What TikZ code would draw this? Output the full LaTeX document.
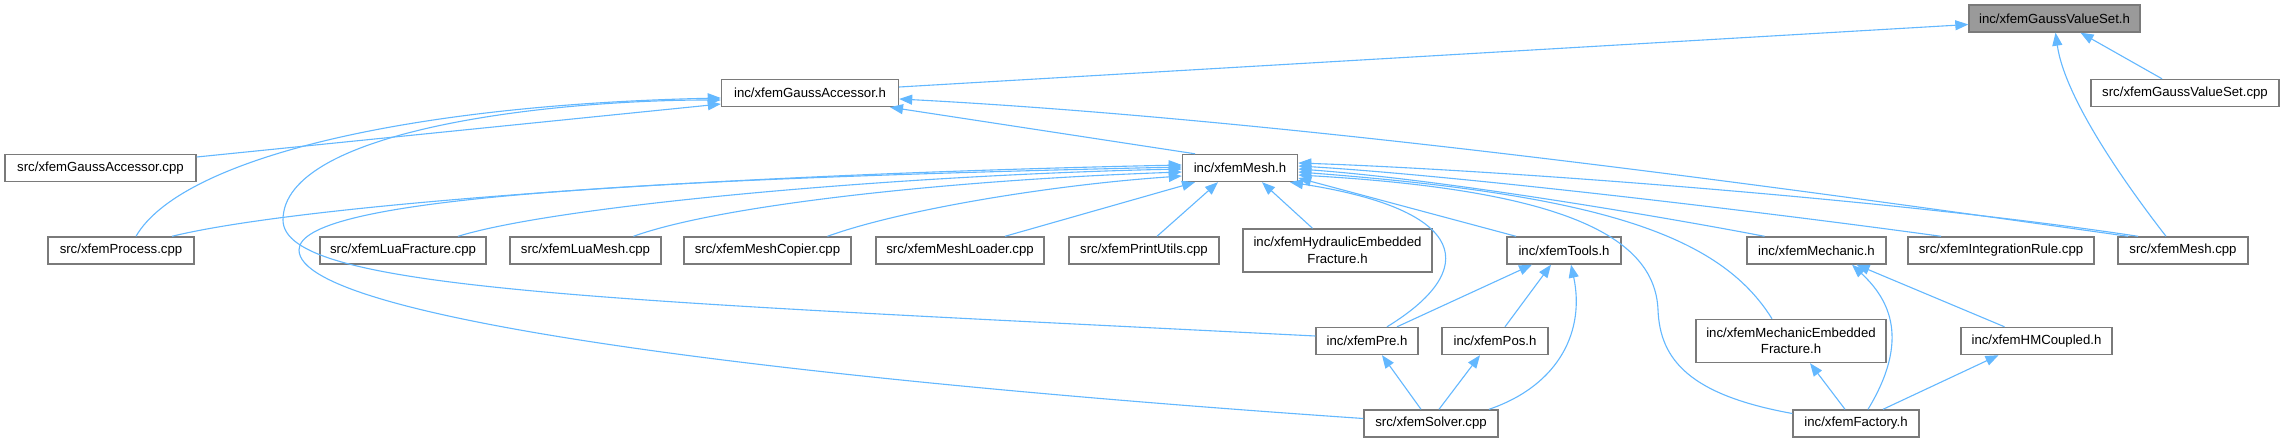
\documentclass[tikz,border=0pt]{standalone}
\usepackage{fontspec}
\setmainfont{Liberation Sans}
\usetikzlibrary{arrows.meta}
\definecolor{edgeblue}{HTML}{63B8FF}
\definecolor{boxline}{HTML}{7A7A7A}
\definecolor{rootfill}{HTML}{9A9A9A}
\tikzset{
  box/.style={draw=boxline, line width=1.4pt, fill=white, inner sep=0pt,
    minimum height=27pt, align=center, anchor=center,
    font=\fontsize{13.2pt}{16.5pt}\selectfont},
  tall/.style={minimum height=43pt},
  root/.style={fill=rootfill},
  edge/.style={draw=edgeblue, line width=1.1pt,
    -{Triangle[length=13pt,width=10pt]}}
}
\begin{document}
\begin{tikzpicture}[x=1pt,y=-1pt]
\useasboundingbox[fill=white] (0,0) rectangle (2285,443);
% nodes
\node[box,root,minimum width=171pt] (gvs) at (2054.5,18.5) {inc/xfemGaussValueSet.h};
\node[box,minimum width=177pt] (ga) at (810,93) {inc/xfemGaussAccessor.h};
\node[box,minimum width=188pt] (gvscpp) at (2185,93) {src/xfemGaussValueSet.cpp};
\node[box,minimum width=191pt] (gacpp) at (100.5,168) {src/xfemGaussAccessor.cpp};
\node[box,minimum width=115pt] (mesh) at (1240,168) {inc/xfemMesh.h};
\node[box,minimum width=146pt] (process) at (121,250.5) {src/xfemProcess.cpp};
\node[box,minimum width=166pt] (luafrac) at (403,250.5) {src/xfemLuaFracture.cpp};
\node[box,minimum width=151pt] (luamesh) at (585.5,250.5) {src/xfemLuaMesh.cpp};
\node[box,minimum width=167pt] (copier) at (767.5,250.5) {src/xfemMeshCopier.cpp};
\node[box,minimum width=168pt] (loader) at (960,250.5) {src/xfemMeshLoader.cpp};
\node[box,minimum width=150pt] (print) at (1144,250.5) {src/xfemPrintUtils.cpp};
\node[box,tall,minimum width=189pt] (hyd) at (1337.5,250.5) {inc/xfemHydraulicEmbedded\\Fracture.h};
\node[box,minimum width=114pt] (tools) at (1564,250.5) {inc/xfemTools.h};
\node[box,minimum width=139pt] (mechanic) at (1816.5,250.5) {inc/xfemMechanic.h};
\node[box,minimum width=186pt] (integ) at (2001,250.5) {src/xfemIntegrationRule.cpp};
\node[box,minimum width=130pt] (meshcpp) at (2183,250.5) {src/xfemMesh.cpp};
\node[box,minimum width=102pt] (pre) at (1367,341) {inc/xfemPre.h};
\node[box,minimum width=106pt] (pos) at (1495,341) {inc/xfemPos.h};
\node[box,tall,minimum width=190pt] (mechemb) at (1791,341) {inc/xfemMechanicEmbedded\\Fracture.h};
\node[box,minimum width=151pt] (hm) at (2036.5,341) {inc/xfemHMCoupled.h};
\node[box,minimum width=134pt] (solver) at (1431,423.5) {src/xfemSolver.cpp};
\node[box,minimum width=126pt] (factory) at (1856,423.5) {inc/xfemFactory.h};
% edges to GaussValueSet.h
\draw[edge] ([yshift=6pt]ga.east) -- ([yshift=-6pt]gvs.west);
\draw[edge] ([xshift=-23pt]gvscpp.north) -- ([xshift=26pt]gvs.south);
\draw[edge] ([xshift=-17pt]meshcpp.north) .. controls (2130,190) and (2065,100) .. ([xshift=1pt]gvs.south);
% edges to GaussAccessor.h
\draw[edge] ([yshift=11pt]gacpp.east) -- ([yshift=-11pt]ga.west);
\draw[edge] ([xshift=15pt]process.north) .. controls (180,160) and (400,105) .. ([yshift=-5pt]ga.west);
\draw[edge] ([yshift=5pt]pre.west) .. controls (600,300) and (283,290) .. (283,220) .. controls (283,130) and (550,100) .. ([yshift=-7pt]ga.west);
\draw[edge] ([xshift=-45pt]mesh.north) -- ([xshift=80pt]ga.south);
\draw[edge] ([xshift=-55pt]meshcpp.north) .. controls (1800,190) and (1300,120) .. ([yshift=-6pt]ga.east);
% edges to Mesh.h (left)
\draw[edge] ([xshift=51pt]process.north) .. controls (300,205) and (700,175) .. ([yshift=3pt]mesh.west);
\draw[edge] ([yshift=5pt]solver.west) .. controls (800,380) and (299,320) .. (299,250) .. controls (299,200) and (600,180) .. ([yshift=1pt]mesh.west);
\draw[edge] ([xshift=55pt]luafrac.north) .. controls (560,205) and (900,175) .. ([yshift=-1pt]mesh.west);
\draw[edge] ([xshift=48pt]luamesh.north) .. controls (720,205) and (950,180) .. ([yshift=-4pt]mesh.west);
\draw[edge] ([xshift=60pt]copier.north) .. controls (900,210) and (1050,185) .. ([yshift=-8pt]mesh.west);
\draw[edge] ([xshift=45pt]loader.north) -- ([xshift=-45pt]mesh.south);
\draw[edge] ([xshift=13pt]print.north) -- ([xshift=-22pt]mesh.south);
\draw[edge] ([xshift=-25pt]hyd.north) -- ([xshift=22pt]mesh.south);
% edges to Mesh.h (right)
\draw[edge] ([xshift=-45pt]meshcpp.north) .. controls (1900,200) and (1500,170) .. ([yshift=5pt]mesh.east);
\draw[edge] ([xshift=-60pt]integ.north) .. controls (1750,210) and (1450,175) .. ([yshift=2pt]mesh.east);
\draw[edge] ([xshift=-52pt]mechanic.north) .. controls (1680,220) and (1450,180) .. ([yshift=-1pt]mesh.east);
\draw[edge] ([xshift=-19pt]mechemb.north) .. controls (1720,235) and (1600,195) .. ([yshift=-4pt]mesh.east);
\draw[edge] ([yshift=10pt]factory.west) .. controls (1690,395) and (1660,360) .. (1658,310) .. controls (1655,235) and (1560,190) .. ([yshift=-7pt]mesh.east);
\draw[edge] ([xshift=-48pt]tools.north) -- ([yshift=-10pt]mesh.east);
\draw[edge] ([xshift=20pt]pre.north) .. controls (1480,270) and (1470,210) .. ([xshift=50pt]mesh.south);
% lower edges
\draw[edge] ([xshift=30pt]pre.north) -- ([xshift=-32pt]tools.south);
\draw[edge] ([xshift=10pt]pos.north) -- ([xshift=-13pt]tools.south);
\draw[edge] ([xshift=58pt]solver.north) .. controls (1560,385) and (1585,330) .. ([xshift=7pt]tools.south);
\draw[edge] ([xshift=-10pt]solver.north) -- ([xshift=15pt]pre.south);
\draw[edge] ([xshift=8pt]solver.north) -- ([xshift=-15pt]pos.south);
\draw[edge] ([xshift=12pt]factory.north) .. controls (1910,340) and (1890,300) .. ([xshift=35.5pt]mechanic.south);
\draw[edge] ([xshift=-32pt]hm.north) -- ([xshift=40pt]mechanic.south);
\draw[edge] ([xshift=-11pt]factory.north) -- ([xshift=19pt]mechemb.south);
\draw[edge] ([xshift=27pt]factory.north) -- ([xshift=-38pt]hm.south);
\end{tikzpicture}
\end{document}
